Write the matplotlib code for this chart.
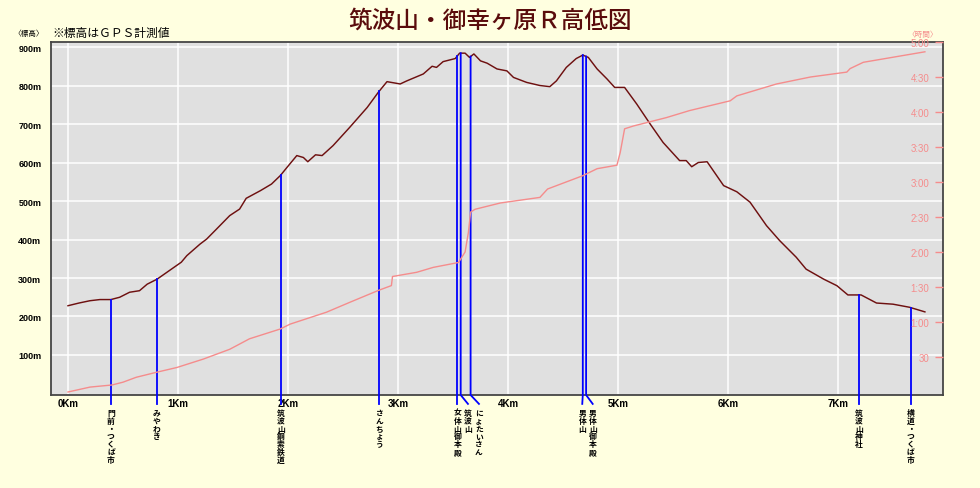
import matplotlib
matplotlib.use('Agg')
import matplotlib.pyplot as plt
import numpy as np

plt.rcParams['font.family'] = ['Noto Sans CJK JP', 'DejaVu Sans']

# --- elevation profile (distance km, elevation m)
dist_km = [0.00, 0.10, 0.20, 0.29, 0.39, 0.47, 0.56, 0.65, 0.72, 0.81, 0.90, 1.03,
           1.08, 1.20, 1.26, 1.35, 1.47, 1.56, 1.62, 1.75, 1.85, 1.93, 1.99, 2.08,
           2.14, 2.18, 2.25, 2.31, 2.41, 2.56, 2.72, 2.82, 2.90, 3.02, 3.08, 3.23,
           3.31, 3.35, 3.41, 3.52, 3.56, 3.61, 3.65, 3.69, 3.75, 3.81, 3.90, 3.99,
           4.05, 4.17, 4.29, 4.38, 4.44, 4.53, 4.62, 4.68, 4.73, 4.81, 4.90, 4.97,
           5.06, 5.17, 5.29, 5.41, 5.56, 5.62, 5.67, 5.73, 5.81, 5.96, 6.08, 6.20,
           6.35, 6.47, 6.62, 6.71, 6.87, 6.99, 7.09, 7.21, 7.35, 7.50, 7.65, 7.79]
elev_m = [228, 235, 241, 244, 244, 250, 263, 267, 284, 297, 315, 341,
          358, 388, 401, 427, 462, 479, 507, 527, 544, 566, 587, 618,
          613, 602, 620, 618, 644, 691, 743, 782, 810, 804, 812, 830,
          850, 847, 862, 870, 884, 884, 873, 882, 864, 858, 843, 838,
          821, 808, 800, 797, 812, 847, 870, 879, 873, 843, 817, 795,
          795, 752, 701, 652, 605, 605, 589, 600, 602, 540, 524, 497,
          436, 397, 354, 323, 297, 280, 256, 256, 235, 232, 224, 212]

# --- elapsed time (distance km, hours)
time_km = [0.00, 0.20, 0.40, 0.50, 0.62, 0.80, 0.99, 1.23, 1.47, 1.65, 1.93, 2.02,
           2.35, 2.56, 2.82, 2.94, 2.95, 3.17, 3.32, 3.55, 3.61, 3.64, 3.66, 3.70,
           3.93, 4.29, 4.36, 4.68, 4.81, 4.99, 5.02, 5.06, 5.14, 5.44, 5.65, 6.02,
           6.08, 6.44, 6.75, 7.08, 7.11, 7.23, 7.79]
time_h = [0.00, 0.07, 0.10, 0.14, 0.21, 0.28, 0.35, 0.47, 0.61, 0.76, 0.90, 0.97,
          1.14, 1.28, 1.45, 1.52, 1.65, 1.71, 1.78, 1.85, 2.00, 2.28, 2.57, 2.61,
          2.70, 2.78, 2.90, 3.09, 3.19, 3.24, 3.42, 3.76, 3.80, 3.92, 4.02, 4.16,
          4.23, 4.40, 4.50, 4.57, 4.62, 4.71, 4.86]

# --- waypoints
marker_names = ['門前・つくば市', 'みやわき', '筑波山鋼索鉄道', 'さんちょう',
                '女体山御本殿', '筑波山', 'にょたいさん', '男体山', '男体山御本殿',
                '筑波山神社', '横道・つくば市']
marker_km = [0.39, 0.806, 1.936, 2.83, 3.54, 3.57, 3.66, 4.68, 4.71, 7.19, 7.66]
label_km = [0.39, 0.806, 1.936, 2.83, 3.54, 3.636, 3.736, 4.675, 4.77, 7.19, 7.66]

# --- ticks
km_ticks = [0, 1, 2, 3, 4, 5, 6, 7]
km_tick_labels = ['0Km', '1Km', '2Km', '3Km', '4Km', '5Km', '6Km', '7Km']
elev_ticks = [100, 200, 300, 400, 500, 600, 700, 800, 900]
elev_tick_labels = ['100m', '200m', '300m', '400m', '500m', '600m', '700m', '800m', '900m']
time_ticks = [0.5, 1.0, 1.5, 2.0, 2.5, 3.0, 3.5, 4.0, 4.5, 5.0]
time_tick_labels = ['30', '1:00', '1:30', '2:00', '2:30', '3:00', '3:30', '4:00', '4:30', '5:00']

BG = '#FFFFE0'
PINK = '#F58C8C'
ELEV = '#6E1010'

fig = plt.figure(figsize=(9.8, 4.89), dpi=100, facecolor=BG)
ax = fig.add_axes([51/980, 93/489, 892/980, 353/489])
ax.set_facecolor('#E0E0E0')
ax.set_xlim(-0.1545, 7.9545)
ax.set_ylim(-3.9, 913)
ax.set_xticks(km_ticks)
ax.set_xticklabels(km_tick_labels, fontfamily='Liberation Sans', fontweight='bold', fontsize=7)
ax.set_yticks(elev_ticks)
ax.set_yticklabels(elev_tick_labels, fontfamily='Liberation Sans', fontweight='bold', fontsize=6.5)
ax.tick_params(axis='x', length=0, pad=2)
ax.tick_params(axis='y', length=0, pad=7)
ax.grid(True, color='white', lw=1.1)
ax.set_axisbelow(True)
for s in ax.spines.values():
    s.set_color('#454545')
    s.set_linewidth(1.3)

ax.plot(dist_km, elev_m, color=ELEV, lw=1.05, zorder=3)

# waypoint lines and labels
y_line_end = -27
y_text_top = -37
for name, mk, lk in zip(marker_names, marker_km, label_km):
    top = np.interp(mk, dist_km, elev_m)
    ax.plot([mk, mk, lk], [top, -3.9, y_line_end], color='#0000FF', lw=1.3,
            clip_on=False, zorder=4)
    ax.text(lk, y_text_top, '\n'.join(name), ha='center', va='top', fontsize=5.6,
            fontweight='bold', linespacing=0.84, clip_on=False)

# time axis
ax2 = ax.twinx()
ax2.set_ylim(-0.043, 5.0)
ax2.plot(time_km, time_h, color=PINK, lw=1.0, zorder=2)
ax2.set_yticks(time_ticks)
ax2.set_yticklabels(time_tick_labels, fontfamily='Liberation Sans', fontsize=7, color=PINK)
ax2.tick_params(axis='y', direction='in', length=6, width=1, color=PINK, pad=-10)
for lab in ax2.get_yticklabels():
    lab.set_ha('right')
for s in ax2.spines.values():
    s.set_visible(False)

# texts
fig.text(490/980, 1 - 21/489, '筑波山・御幸ヶ原Ｒ高低図', ha='center', va='center',
         fontsize=17, fontweight='medium', color='#5A0C0C')
fig.text(52/980, 1 - 33/489, '※標高はＧＰＳ計測値', ha='left', va='center', fontsize=8.5)
fig.text(29/980, 1 - 34/489, '〈標高〉', ha='center', va='center', fontsize=5.5)
fig.text(923/980, 1 - 35/489, '〈時間〉', ha='center', va='center', fontsize=5.5, color=PINK)

fig.savefig('out.png', dpi=100, facecolor=BG)
